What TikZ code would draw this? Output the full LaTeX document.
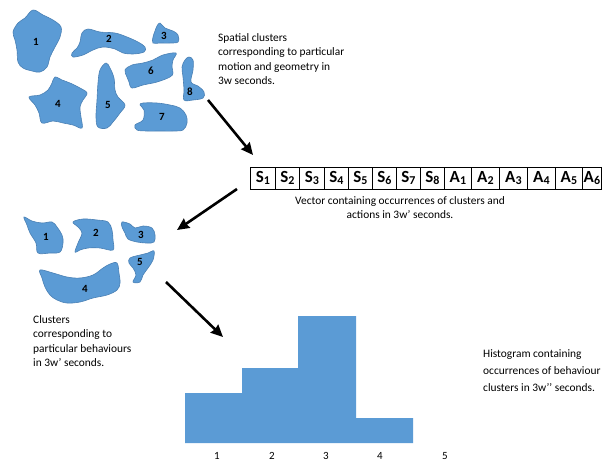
\documentclass[tikz,border=0pt]{standalone}
\usepackage{fontspec}
\setmainfont{Carlito}
\usetikzlibrary{arrows.meta}
\definecolor{blobfill}{HTML}{5B9BD5}
\definecolor{blobedge}{HTML}{4A80B4}
\newcommand{\vsub}[1]{\raisebox{-1.6pt}{\fontsize{12}{12}\selectfont #1}}
\begin{document}
\begin{tikzpicture}[x=1pt,y=-1pt,
  blob/.style={fill=blobfill, draw=blobedge, line width=0.6pt},
  blobnum/.style={font=\fontsize{11}{13}\selectfont\bfseries, inner sep=0},
  caption/.style={font=\fontsize{11.4}{14.6}\selectfont, align=left, anchor=north west, inner sep=0},
  cell/.style={draw, line width=0.8pt, minimum height=22pt, inner sep=0, anchor=west,
               font=\fontsize{17}{18}\selectfont\bfseries},
  flow/.style={line width=2.6pt, -{Stealth[length=12pt,width=11pt,inset=1pt]}},
  tick/.style={font=\fontsize{11}{13}\selectfont, inner sep=0, anchor=base}
]
\useasboundingbox (0,0) rectangle (603,461);

% ---------- spatial clusters ----------
\path[blob] plot[smooth cycle, tension=0.6] coordinates {(33,10) (43,15) (53,20) (61,27) (60,37) (55,47) (50,57) (47,67) (40,72) (32,71) (23,68) (18,62) (17,50) (15,40) (13,32) (18,23) (25,18)};
\path[blob] plot[smooth cycle, tension=0.6] coordinates {(82,33) (88,29) (100,32) (115,33) (127,37) (138,42) (145,47) (144,52) (133,54) (123,53) (115,49) (103,47) (93,50) (83,55) (73,57) (72,53) (77,48) (80,42)};
\path[blob] plot[smooth cycle, tension=0.6] coordinates {(160,23) (165,28) (173,31) (178,35) (178,42) (170,43) (160,43) (153,43) (153,37) (155,31) (157,26)};
\path[blob] plot[smooth cycle, tension=0.6] coordinates {(125,70) (132,65) (143,63) (153,60) (163,55) (176,53) (173,60) (172,67) (173,73) (170,77) (157,82) (143,85) (132,88) (129,82) (127,77)};
\path[blob] plot[smooth cycle, tension=0.6] coordinates {(189,57) (193,60) (193,70) (191,82) (198,86) (204,92) (203,98) (193,100) (184,100) (184,90) (183,77) (182,67) (185,60)};
\path[blob] plot[smooth cycle, tension=0.6] coordinates {(55,77) (62,80) (70,83) (80,88) (87,93) (83,100) (80,107) (81,117) (82,128) (73,125) (63,123) (53,121) (42,123) (39,113) (35,105) (29,97) (40,95) (48,90) (52,83)};
\path[blob] plot[smooth cycle, tension=0.6] coordinates {(106,63) (110,68) (114,78) (115,90) (118,97) (125,105) (120,113) (113,122) (107,128) (98,127) (96,117) (97,100) (98,83) (100,70)};
\path[blob] plot[smooth cycle, tension=0.6] coordinates {(143,103) (157,103) (170,105) (180,108) (186,115) (187,123) (183,130) (173,131) (160,131) (147,131) (137,130) (135,125) (143,120) (144,110) (140,105)};

\node[blobnum] (t1) at (36,42) {1};
\node[blobnum] (t2) at (109,39) {2};
\node[blobnum] (t3) at (164,36) {3};
\node[blobnum] (t6) at (151,71) {6};
\node[blobnum] (t8) at (190,92) {8};
\node[blobnum] (t4) at (58,104) {4};
\node[blobnum] (t5) at (108,105) {5};
\node[blobnum] (t7) at (162,117) {7};

\node[caption] (spatialtxt) at (218,33) {Spatial clusters\\corresponding to particular\\motion and geometry in\\3w seconds.};

% ---------- occurrence vector ----------
\foreach \name/\l/\r/\lab in {s1/250/275/S\vsub{1}, s2/275/299/S\vsub{2},
    s3/299/324/S\vsub{3}, s4/324/348/S\vsub{4}, s5/348/372/S\vsub{5},
    s6/372/396/S\vsub{6}, s7/396/420/S\vsub{7}, s8/420/444/S\vsub{8},
    a1/444/471/A\vsub{1}, a2/471/499/A\vsub{2}, a3/499/527/A\vsub{3},
    a4/527/555/A\vsub{4}, a5/555/582/A\vsub{5}, a6/582/601/A\vsub{6}}
  \node[cell, minimum width={(\r-\l)*1pt}] (\name) at (\l,178) {\lab};

\node[font=\fontsize{11.4}{14.6}\selectfont, align=center, anchor=north, inner sep=0] (vectxt) at (400,196)
  {Vector containing occurrences of clusters and\\actions in 3w’ seconds.};

% ---------- behaviour clusters ----------
\path[blob] plot[smooth cycle, tension=0.6] coordinates {(24,217) (32,221) (42,223) (52,222) (57,227) (62,235) (63,243) (60,252) (50,253) (38,253) (36,243) (30,233) (27,225)};
\path[blob] plot[smooth cycle, tension=0.6] coordinates {(73,222) (83,219) (97,220) (108,222) (112,230) (113,240) (113,250) (100,248) (88,248) (80,250) (75,252) (78,243) (82,233) (78,227)};
\path[blob] plot[smooth cycle, tension=0.6] coordinates {(122,222) (130,224) (135,228) (143,226) (152,228) (155,235) (154,242) (147,243) (137,242) (128,239) (125,233) (122,227)};
\path[blob] plot[smooth cycle, tension=0.6] coordinates {(130,258) (140,255) (148,253) (154,251) (153,260) (148,268) (143,275) (140,282) (133,282) (136,275) (133,268) (129,263)};
\path[blob] plot[smooth cycle, tension=0.6] coordinates {(40,270) (53,273) (67,277) (80,278) (93,275) (103,268) (110,264) (117,263) (119,273) (120,283) (117,290) (107,295) (93,298) (80,302) (67,303) (57,300) (50,295) (45,287) (42,278)};

\node[blobnum] (b1) at (46,237) {1};
\node[blobnum] (b2) at (96,233) {2};
\node[blobnum] (b3) at (141,235) {3};
\node[blobnum] (b5) at (140,262) {5};
\node[blobnum] (b4) at (85,289) {4};

\node[caption] (behavtxt) at (33,315) {Clusters\\corresponding to\\particular behaviours\\in 3w’ seconds.};

% ---------- histogram ----------
\fill[blobfill] (185,443) -- (185,393) -- (242,393) -- (242,368) -- (298,368) -- (298,316)
  -- (356,316) -- (356,418) -- (413,418) -- (413,443) -- cycle;
\node[tick] (h1) at (217,459) {1};
\node[tick] (h2) at (272,459) {2};
\node[tick] (h3) at (326,459) {3};
\node[tick] (h4) at (380,459) {4};
\node[tick] (h5) at (445,459) {5};

\node[caption, font=\fontsize{11.4}{17.2}\selectfont] (histtxt) at (483,349)
  {Histogram containing\\occurrences of behaviour\\clusters in 3w’’ seconds.};

% ---------- flow arrows ----------
\coordinate (f1s) at (208,100);
\coordinate (f1e) at (253,155);
\coordinate (f2s) at (237,189);
\coordinate (f2e) at (177,230);
\coordinate (f3s) at (166,282);
\coordinate (f3e) at (223,337);
\draw[flow] (f1s) -- (f1e);
\draw[flow] (f2s) -- (f2e);
\draw[flow] (f3s) -- (f3e);
\end{tikzpicture}
\end{document}
